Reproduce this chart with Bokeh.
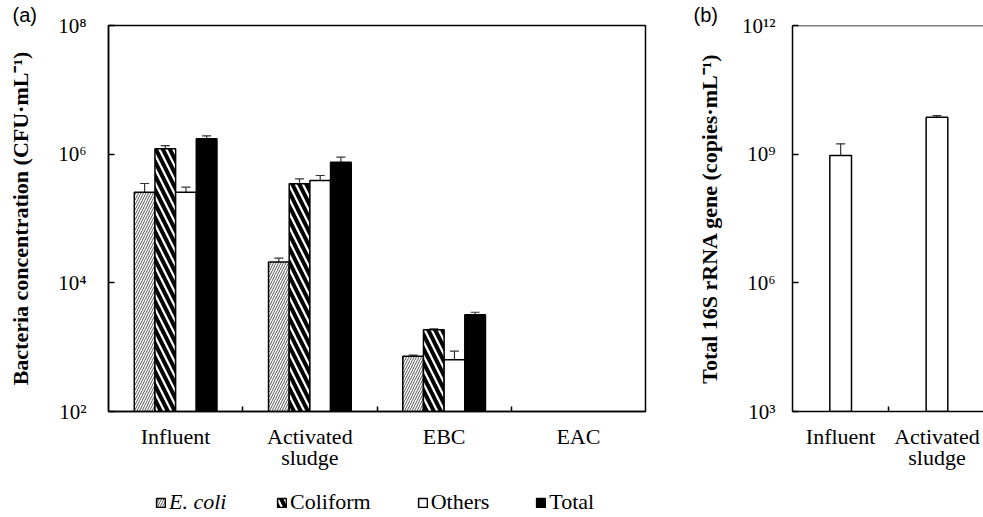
import math
from bokeh.plotting import figure
from bokeh.layouts import row, column
from bokeh.models import (Range1d, FixedTicker, CustomJSTickFormatter, Whisker, TeeHead,
                          ColumnDataSource, Legend, LegendItem, Span, Title)
from bokeh.embed import file_html
from bokeh.resources import INLINE

# ---------------- data ----------------
sites_a = ["Influent", "Activated\nsludge", "EBC", "EAC"]
series = ["E. coli", "Coliform", "Others", "Total"]
ecoli = [2.56e5, 2.1e4, 7.2e2, float("nan")]
ecoli_sd = [0.94e5, 0.32e4, 30, float("nan")]
coliform = [1.21e6, 3.46e5, 1.86e3, float("nan")]
coliform_sd = [1.5e5, 0.68e5, 70, float("nan")]
others = [2.56e5, 3.9e5, 6.35e2, float("nan")]
others_sd = [0.51e5, 0.76e5, 232, float("nan")]
total = [1.73e6, 7.5e5, 3.19e3, float("nan")]
total_sd = [2.0e5, 1.47e5, 300, float("nan")]
yticks_a = [1e2, 1e4, 1e6, 1e8]

sites_b = ["Influent", "Activated\nsludge"]
rrna = [9.3e8, 7.3e9]
rrna_sd = [8.1e8, 0.64e9]
yticks_b = [1e3, 1e6, 1e9, 1e12]

FONT = "Liberation Serif"

sup_code = """
const s = {"0":"\u2070","1":"\u00b9","2":"\u00b2","3":"\u00b3","4":"\u2074","5":"\u2075","6":"\u2076","7":"\u2077","8":"\u2078","9":"\u2079"};
const e = Math.round(Math.log10(tick));
return "10" + String(e).split("").map(c => s[c]).join("");
"""


def style(p, labels):
    p.xgrid.visible = False
    p.ygrid.visible = False
    p.background_fill_color = "white"
    p.border_fill_color = "white"
    ax = p.xaxis[0]
    n = len(labels)
    ax.ticker = FixedTicker(ticks=[i + 0.5 for i in range(n)],
                            minor_ticks=[i for i in range(1, n)])
    ax.formatter = CustomJSTickFormatter(args=dict(labels=labels),
                                         code="return labels[Math.floor(tick)];")
    ax.major_tick_in = 0
    ax.major_tick_out = 0
    ax.minor_tick_in = 5
    ax.minor_tick_out = 0
    ax.minor_tick_line_color = "black"
    ax.minor_tick_line_width = 1.5
    ax.axis_line_width = 1.5
    ax.axis_line_color = "black"
    ax.major_label_text_font = FONT
    ax.major_label_text_font_size = "22px"
    ax.major_label_text_color = "black"
    ax.major_label_text_line_height = 0.85
    ax.major_label_standoff = 12
    ay = p.yaxis[0]
    ay.formatter = CustomJSTickFormatter(code=sup_code)
    ay.major_tick_in = 6
    ay.major_tick_out = 0
    ay.minor_tick_in = 0
    ay.minor_tick_out = 0
    ay.major_tick_line_color = "black"
    ay.major_tick_line_width = 1.5
    ay.axis_line_width = 1.5
    ay.axis_line_color = "black"
    ay.major_label_text_font = FONT
    ay.major_label_text_font_size = "21px"
    ay.major_label_text_color = "black"
    ay.axis_label_text_font = FONT
    ay.axis_label_text_font_size = "22px"
    ay.axis_label_text_font_style = "bold"
    ay.axis_label_text_color = "black"


def panel_title(p, text, offset):
    t = Title(text=text, align="left", offset=offset, standoff=0,
              text_font="Liberation Sans", text_font_size="20px",
              text_font_style="normal", text_color="black")
    p.title = t


bw = 0.154
styles = [
    dict(fill_color="white", hatch_pattern="/", hatch_color="#555555", hatch_scale=5, hatch_weight=1),
    dict(fill_color="white", hatch_pattern="\\", hatch_color="black", hatch_scale=14, hatch_weight=4),
    dict(fill_color="white"),
    dict(fill_color="black"),
]

# ---------------- panel (a) ----------------
fa = figure(width=660, height=474, x_range=Range1d(0, 4), y_range=Range1d(1e2, 1e8),
            y_axis_type="log", output_backend="svg", toolbar_location=None,
            min_border_left=108, min_border_right=15, min_border_top=25, min_border_bottom=63)
style(fa, sites_a)
panel_title(fa, "(a)", -96)
fa.yaxis[0].ticker = FixedTicker(ticks=yticks_a)
fa.yaxis[0].major_label_standoff = 22
fa.yaxis[0].axis_label = "Bacteria concentration (CFU\u00b7mL\u207b\u00b9)"
fa.yaxis[0].axis_label_standoff = 22
fa.outline_line_color = "black"
fa.outline_line_width = 1.5
fa.outline_line_alpha = 1

vals = [ecoli, coliform, others, total]
sds = [ecoli_sd, coliform_sd, others_sd, total_sd]
for k, (v, sd, st) in enumerate(zip(vals, sds, styles)):
    xs, tops, ups = [], [], []
    for i in range(len(sites_a)):
        if not math.isnan(v[i]):
            xs.append(i + 0.5 + (k - 1.5) * bw)
            tops.append(v[i])
            ups.append(v[i] + sd[i])
    src = ColumnDataSource(dict(x=xs, top=tops, upper=ups))
    fa.vbar(x="x", top="top", bottom=1e2, width=bw, source=src,
            line_color="black", line_width=1.5, **st)
    fa.add_layout(Whisker(base="x", lower="top", upper="upper", source=src, dimension="height",
                          line_color="#333333", line_width=1.2, lower_head=None,
                          upper_head=TeeHead(size=9, line_color="#333333", line_width=1.2)))

# ---------------- legend strip under panel (a) ----------------
fl = figure(width=660, height=43, x_range=Range1d(0, 1), y_range=Range1d(0, 1),
            output_backend="svg", toolbar_location=None,
            x_axis_location=None, y_axis_location=None,
            min_border_left=108, min_border_right=15, min_border_top=0, min_border_bottom=0)
fl.grid.visible = False
fl.outline_line_color = None
leg_r = []
for st in styles:
    # hidden proxy renderers: only their legend swatches are shown
    r = fl.vbar(x=[0.5], top=[0.5], bottom=0.4, width=0.1,
                line_color="black", line_width=1.5, **st)
    r.visible = False
    leg_r.append(r)

common_leg = dict(orientation="horizontal", border_line_color=None, background_fill_alpha=0,
                  padding=0, margin=0, spacing=46, glyph_width=11, glyph_height=11,
                  label_standoff=3, label_text_font=FONT, label_text_font_size="22px",
                  label_text_color="black", label_height=22, inactive_fill_alpha=0,
                  click_policy="none")
leg1 = Legend(items=[LegendItem(label=series[0], renderers=[leg_r[0]])],
              location=(47, 2), label_text_font_style="italic", **common_leg)
leg2 = Legend(items=[LegendItem(label=s, renderers=[r]) for s, r in zip(series[1:], leg_r[1:])],
              location=(168, 2), **common_leg)
fl.add_layout(leg1)
fl.add_layout(leg2)

# ---------------- panel (b) ----------------
fb = figure(width=323, height=474, x_range=Range1d(0, 1.983), y_range=Range1d(1e3, 1e12),
            y_axis_type="log", output_backend="svg", toolbar_location=None,
            min_border_left=132, min_border_right=0, min_border_top=25, min_border_bottom=63)
style(fb, sites_b)
panel_title(fb, "(b)", -99)
fb.yaxis[0].ticker = FixedTicker(ticks=yticks_b)
fb.yaxis[0].major_label_standoff = 17
fb.yaxis[0].axis_label = "Total 16S rRNA gene (copies\u00b7mL\u207b\u00b9)"
fb.yaxis[0].axis_label_standoff = 17
fb.outline_line_color = None

srcb = ColumnDataSource(dict(x=[i + 0.5 for i in range(len(sites_b))], top=rrna,
                             upper=[a + b for a, b in zip(rrna, rrna_sd)]))
fb.vbar(x="x", top="top", bottom=1e3, width=0.225, source=srcb, fill_color="white",
        line_color="black", line_width=1.5)
fb.add_layout(Whisker(base="x", lower="top", upper="upper", source=srcb, dimension="height",
                      line_color="#333333", line_width=1.2, lower_head=None,
                      upper_head=TeeHead(size=9, line_color="#333333", line_width=1.2)))
fb.add_layout(Span(location=1e12, dimension="width", line_color="black", line_width=1.5))

layout = row(column(fa, fl), fb)
open("out.html", "w").write(file_html(layout, INLINE))
